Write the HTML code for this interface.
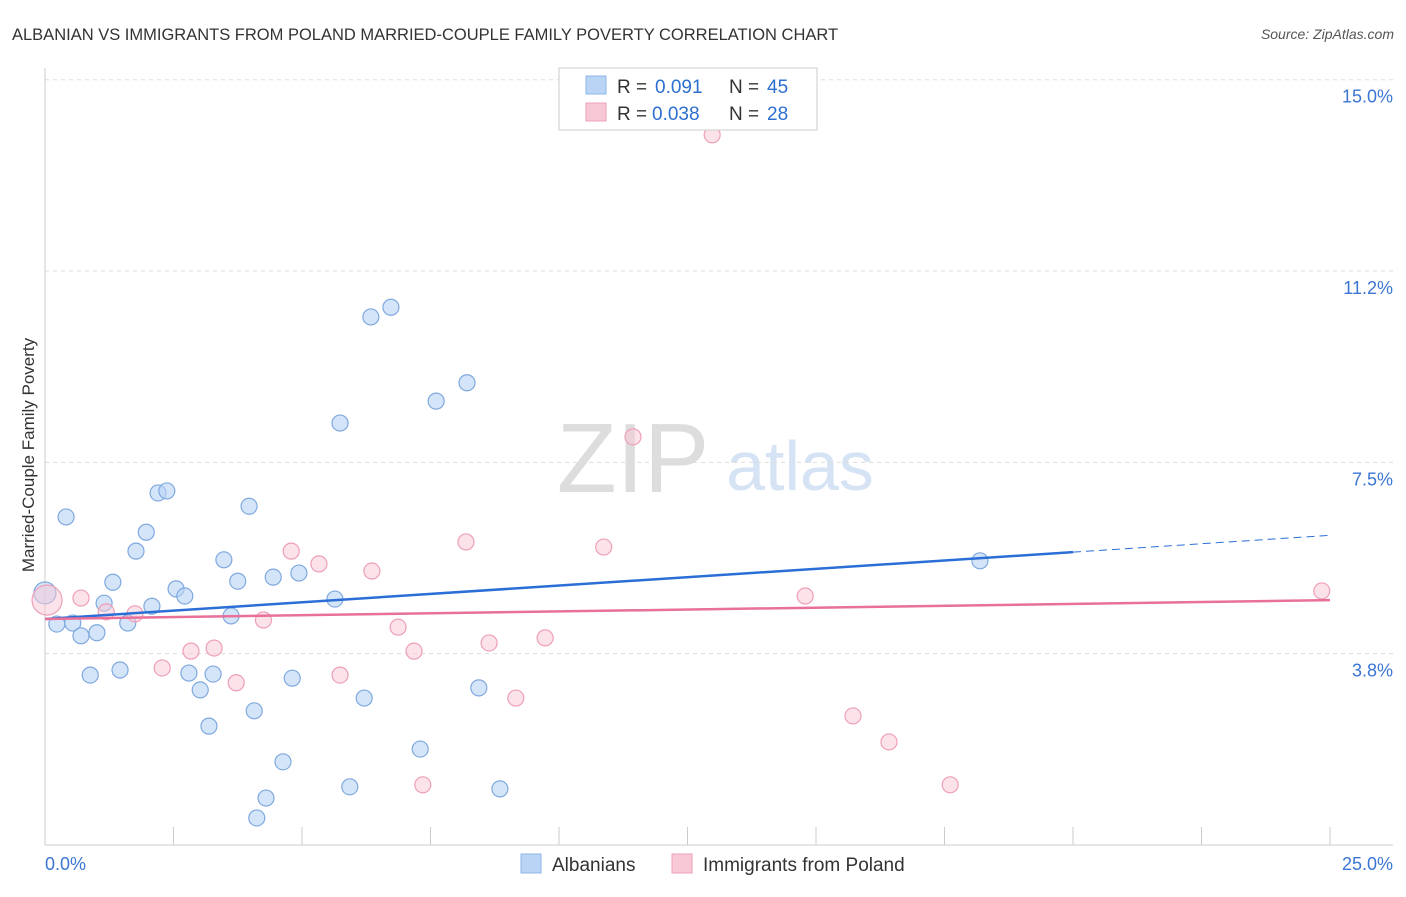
<!DOCTYPE html>
<html><head><meta charset="utf-8"><style>
body{margin:0;background:#fff;font-family:"Liberation Sans",sans-serif;}
svg text{font-family:"Liberation Sans",sans-serif;}
</style></head><body>
<svg id="c" width="1406" height="892">
<text x="12" y="40" font-size="16.5" fill="#333">ALBANIAN VS IMMIGRANTS FROM POLAND MARRIED-COUPLE FAMILY POVERTY CORRELATION CHART</text>
<text x="1394" y="39" font-size="14" fill="#555" font-style="italic" text-anchor="end">Source: ZipAtlas.com</text>
<text x="633" y="492" font-size="98" fill="#ddd" font-family="Liberation Serif" text-anchor="middle">ZIP</text>
<text x="800" y="490" font-size="70" fill="#d5e3f5" text-anchor="middle">atlas</text>
<text transform="translate(34,455) rotate(-90)" font-size="17" fill="#333" text-anchor="middle">Married-Couple Family Poverty</text>
<g id="grid"></g><g id="marks"></g>
<g>
<rect x="559" y="68" width="258" height="62" fill="#fff" stroke="#ccc"/>
<rect x="586" y="76" width="20" height="18" fill="#b9d4f5" stroke="#8fb6e8"/>
<text x="617" y="93" font-size="19" fill="#333">R =</text>
<text x="655" y="93" font-size="19" fill="#2d6fd0">0.091</text>
<text x="729" y="93" font-size="19" fill="#333">N =</text>
<text x="767" y="93" font-size="19" fill="#2d6fd0">45</text>
<rect x="586" y="103" width="20" height="18" fill="#f9c8d6" stroke="#f0a0b8"/>
<text x="617" y="120" font-size="19" fill="#333">R =</text>
<text x="652" y="120" font-size="19" fill="#2d6fd0">0.038</text>
<text x="729" y="120" font-size="19" fill="#333">N =</text>
<text x="767" y="120" font-size="19" fill="#2d6fd0">28</text>
</g>
<g>
<rect x="521" y="854" width="20" height="19" fill="#b9d4f5" stroke="#8fb6e8"/>
<text x="552" y="871" font-size="19" fill="#333">Albanians</text>
<rect x="672" y="854" width="20" height="19" fill="#f9c8d6" stroke="#f0a0b8"/>
<text x="703" y="871" font-size="19" fill="#333">Immigrants from Poland</text>
</g>
</svg>
<script>
const yTicks=[3.75,7.5,11.25,15];
const yTickLabels=["3.8%","7.5%","11.2%","15.0%"];
const blueX=[0,0.23,0.41,0.54,0.70,0.88,1.01,1.15,1.32,1.46,1.61,1.77,1.97,2.08,2.20,2.37,2.55,2.72,2.80,3.02,3.19,3.27,3.48,3.62,3.75,3.97,4.07,4.12,4.30,4.44,4.63,4.81,4.94,5.64,5.74,5.93,6.21,6.34,6.73,7.30,7.61,8.21,8.44,8.85,18.19];
const blueY=[4.94,4.33,6.43,4.35,4.10,3.33,4.16,4.74,5.15,3.43,4.35,5.76,6.13,4.68,6.90,6.94,5.02,4.88,3.37,3.04,2.33,3.35,5.59,4.49,5.17,6.64,2.63,0.53,0.92,5.25,1.63,3.27,5.33,4.82,8.27,1.14,2.88,10.35,10.54,1.88,8.70,9.06,3.08,1.10,5.57];
const pinkX=[0.04,0.70,1.19,1.75,2.28,2.84,3.29,3.72,4.25,4.79,5.33,5.74,6.36,6.87,7.18,7.35,8.19,8.64,9.16,9.73,10.87,11.44,12.98,14.79,15.72,16.42,17.61,24.84];
const pinkY=[4.80,4.84,4.57,4.53,3.47,3.80,3.86,3.18,4.41,5.76,5.51,3.33,5.37,4.27,3.80,1.18,5.94,3.96,2.88,4.06,5.84,8.00,13.92,4.88,2.53,2.02,1.18,4.98];
const blueTrend=[4.43,5.74,6.07]; // at x=0,20,25
const pinkTrend=[4.43,4.80];      // at x=0,25
const X=v=>45+v/25*1285, Y=v=>845-v*51.02;
const NS="http://www.w3.org/2000/svg";
function mk(tag,at,parent){const e=document.createElementNS(NS,tag);for(const k in at)e.setAttribute(k,at[k]);document.getElementById(parent).appendChild(e);return e;}
yTicks.forEach((t,i)=>{
 const l=mk('line',{x1:45,x2:1393,y1:Y(t),y2:Y(t),stroke:'#ddd','stroke-dasharray':'4,4'},'grid');
 
 
 const tx=mk('text',{x:1393,y:Y(t)+23,'font-size':18,fill:'#3b76d4','text-anchor':'end'},'grid');tx.textContent=yTickLabels[i];
 
 
});
const ax=mk('line',{x1:45,x2:45,y1:68,y2:845,stroke:'#ccc'},'grid');


const bx=mk('line',{x1:45,x2:1393,y1:845,y2:845,stroke:'#ccc'},'grid');


for(let i=1;i<=10;i++){const t=mk('line',{x1:X(i*2.5),x2:X(i*2.5),y1:827,y2:845,stroke:'#ccc'},'grid');
 
 }
[[0,"0.0%","start",45],[25,"25.0%","end",1393]].forEach(a=>{const t=mk('text',{x:a[3],y:870,'font-size':18,fill:'#3b76d4','text-anchor':a[2]},'grid');t.textContent=a[1];
 
 });
blueX.forEach((x,i)=>{const c=mk('circle',{cx:X(x),cy:Y(blueY[i]),r:i==0?11:8,fill:'rgba(185,212,245,0.6)',stroke:'#7fa9df','stroke-width':1.2},'marks');
 
 });
pinkX.forEach((x,i)=>{const c=mk('circle',{cx:X(x),cy:Y(pinkY[i]),r:i==0?15:8,fill:'rgba(249,200,214,0.5)',stroke:'#ee9fb6','stroke-width':1.2},'marks');
 
 });
const b1=mk('line',{x1:X(0),y1:Y(blueTrend[0]),x2:X(20),y2:Y(blueTrend[1]),stroke:'#2b6fd6','stroke-width':2.5},'marks');


const b2=mk('line',{x1:X(20),y1:Y(blueTrend[1]),x2:X(25),y2:Y(blueTrend[2]),stroke:'#2b6fd6','stroke-width':1,'stroke-dasharray':'8,5'},'marks');


const p1=mk('line',{x1:X(0),y1:Y(pinkTrend[0]),x2:X(25),y2:Y(pinkTrend[1]),stroke:'#e8709a','stroke-width':2.5},'marks');


</script>
</body></html>
